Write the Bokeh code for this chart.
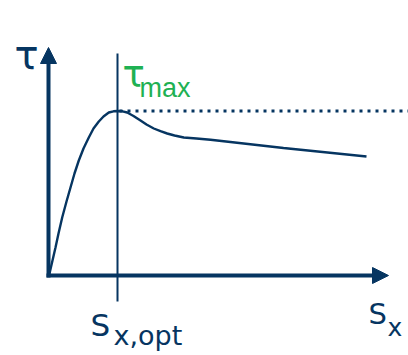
from bokeh.plotting import figure
from bokeh.models import Range1d, Arrow, NormalHead, Label
from bokeh.embed import file_html
from bokeh.resources import INLINE

# ---- data (slip s_x vs. shear stress tau, arbitrary units) ----
s_curve = [0, 1, 4, 7, 10, 13.7, 18, 22, 26, 30.3, 35, 40.3, 45, 50.3, 55, 60.3, 65, 69,
           74, 78.7, 85, 92, 98, 105.3, 112, 118.7, 126, 135.3, 148, 162, 235, 318]
tau_curve = [0, 2, 15, 28, 42, 58, 74, 88, 102, 115, 127, 138, 147, 154, 159, 163, 164.2, 164.5,
             164.2, 163, 159.5, 155, 151, 147, 144.3, 142, 140, 138, 137, 135.7, 127.5, 119]
s_opt = 69
tau_max = 164.5
x_axis_end = 340
y_axis_end = 228

NAVY = "#063561"
GREEN = "#1fb153"

p = figure(width=408, height=355, output_backend="svg", toolbar_location=None,
           x_axis_type=None, y_axis_type=None, min_border=0,
           x_range=Range1d(-48, 360), y_range=Range1d(-80, 275))
p.outline_line_color = None
p.background_fill_color = "white"
p.border_fill_color = "white"

# axes as arrows
p.add_layout(Arrow(end=NormalHead(size=16, fill_color=NAVY, line_color=NAVY, line_width=1),
                   x_start=-2, y_start=0, x_end=x_axis_end, y_end=0,
                   line_color=NAVY, line_width=4))
p.add_layout(Arrow(end=NormalHead(size=16, fill_color=NAVY, line_color=NAVY, line_width=1),
                   x_start=0, y_start=-2, x_end=0, y_end=y_axis_end,
                   line_color=NAVY, line_width=4))

# vertical line at s_x,opt
p.segment(x0=[s_opt], y0=[-26], x1=[s_opt], y1=[222], line_color=NAVY, line_width=2)

# dotted tau_max line
p.line([s_opt + 2, 370], [tau_max, tau_max], line_color=NAVY, line_width=3, line_dash="3 5")

# curve
p.line(s_curve, tau_curve, line_color=NAVY, line_width=2.4)

def lab(x, y, text, size, color, font="DejaVu Sans"):
    p.add_layout(Label(x=x, y=y, text=text, text_font=font, text_font_size=size,
                       text_color=color, text_align="left", text_baseline="alphabetic"))

lab(-34, 221, "τ", "40px", NAVY)
lab(74, 201, "τ", "37px", GREEN)
lab(91, 188, "max", "27px", GREEN, "Liberation Sans")
lab(42, -49, "S", "31px", NAVY)
lab(65, -60, "x,opt", "27px", NAVY)
lab(320, -38, "S", "29px", NAVY)
lab(339, -52, "x", "25px", NAVY)

open("out.html", "w").write(file_html(p, INLINE))
